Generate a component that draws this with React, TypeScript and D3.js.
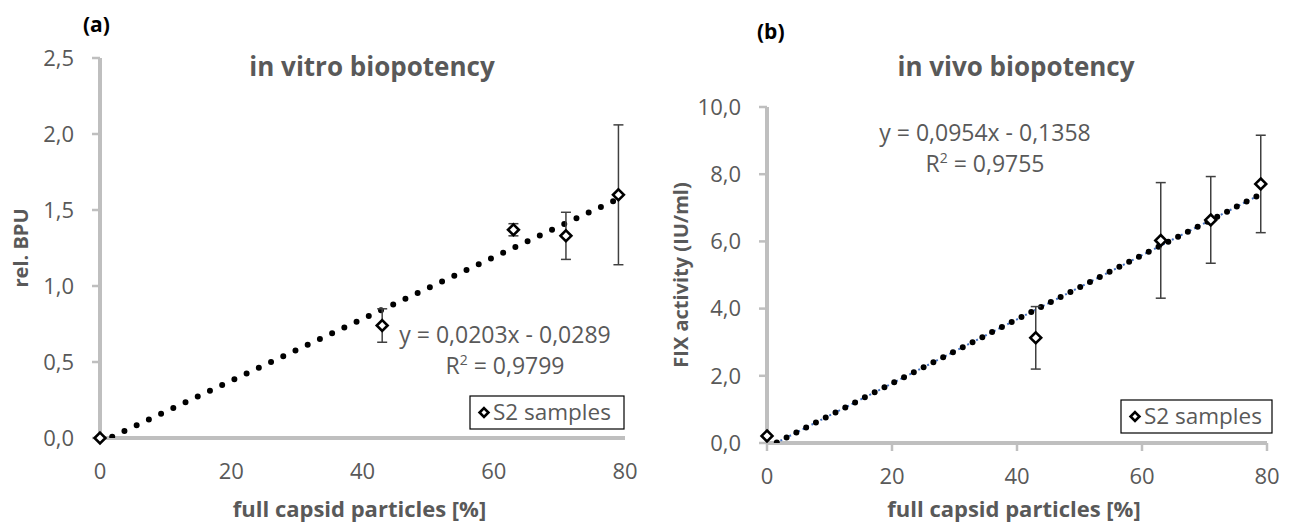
import React, { useEffect, useRef } from 'react';
import * as d3 from 'd3';

// full capsid particles [%]
const fullCapsid = [0, 43, 63, 71, 79];
// in vitro: rel. BPU and error
const invitroBPU = [0.0, 0.74, 1.37, 1.33, 1.6];
const invitroErr = [0, 0.11, 0.04, 0.155, 0.46];
// in vivo: FIX activity (IU/ml) and error
const invivoFIX = [0.21, 3.13, 6.03, 6.64, 7.71];
const invivoErr = [0, 0.93, 1.72, 1.29, 1.45];

const xTicks = [0, 20, 40, 60, 80];
const invitroTicks = [0, 0.5, 1, 1.5, 2, 2.5];
const invivoTicks = [0, 2, 4, 6, 8, 10];

const invitroFit = { slope: 0.0203, intercept: -0.0289, r2: '0,9799' };
const invivoFit = { slope: 0.0954, intercept: -0.1358, r2: '0,9755' };

const FONT = "'Open Sans', sans-serif";
const GRAY = '#595959';
const AXIS = '#bfbfbf';

const fmt = (v: number) => d3.format('.1f')(v).replace('.', ',');
const fmtCoef = (v: number) => d3.format('.4f')(Math.abs(v)).replace('.', ',');

const drawPanel = (svg: any, opt: any) => {
    const { left, right, top, bottom, yMax, yTicks, ys, errs, fit, label, title, yTitle, xTickMarks, eqPos, legendBox, labelPos, titleX, yTitleX, blueTrend } = opt;
    const x = d3.scaleLinear().domain([0, 80]).range([left, right]);
    const y = d3.scaleLinear().domain([0, yMax]).range([bottom, top]);
    const g = svg.append('g');

    const clipId = `clip-${label}`;
    g.append('clipPath').attr('id', clipId)
        .append('rect').attr('x', left).attr('y', top - 5).attr('width', right - left + 10).attr('height', bottom - top + 5);

    // panel label
    g.append('text').attr('x', labelPos[0]).attr('y', labelPos[1])
        .attr('font-family', FONT).attr('font-weight', 'bold').attr('font-size', 21)
        .attr('fill', '#000').text(`(${label})`);

    // chart title
    g.append('text').attr('x', titleX).attr('y', 76).attr('text-anchor', 'middle')
        .attr('font-family', FONT).attr('font-weight', 'bold').attr('font-size', 26)
        .attr('fill', GRAY).text(title);

    // y axis line + ticks
    g.append('line').attr('x1', left).attr('x2', left).attr('y1', y(yMax)).attr('y2', bottom)
        .attr('stroke', AXIS).attr('stroke-width', 4);
    g.selectAll('.ytick').data(yTicks).join('line')
        .attr('x1', left - 8).attr('x2', left).attr('y1', (d: number) => y(d)).attr('y2', (d: number) => y(d))
        .attr('stroke', AXIS).attr('stroke-width', 2.5);
    g.selectAll('.ylab').data(yTicks).join('text')
        .attr('x', left - 26).attr('y', (d: number) => y(d)).attr('dy', '0.35em')
        .attr('text-anchor', 'end').attr('font-family', FONT).attr('font-size', 22)
        .attr('fill', GRAY).text((d: number) => fmt(d));

    // x axis line + ticks
    g.append('line').attr('x1', left).attr('x2', right).attr('y1', bottom).attr('y2', bottom)
        .attr('stroke', AXIS).attr('stroke-width', 4);
    if (xTickMarks) {
        g.selectAll('.xtick').data(xTicks).join('line')
            .attr('x1', (d: number) => x(d)).attr('x2', (d: number) => x(d)).attr('y1', bottom).attr('y2', bottom + 8)
            .attr('stroke', AXIS).attr('stroke-width', 2.5);
    }
    g.selectAll('.xlab').data(xTicks).join('text')
        .attr('x', (d: number) => x(d)).attr('y', bottom + 33).attr('dy', '0.35em')
        .attr('text-anchor', 'middle').attr('font-family', FONT).attr('font-size', 22)
        .attr('fill', GRAY).text((d: number) => d);

    // axis titles
    g.append('text').attr('x', (left + right) / 2 - 3).attr('y', 517).attr('text-anchor', 'middle')
        .attr('font-family', FONT).attr('font-weight', 'bold').attr('font-size', 22)
        .attr('fill', GRAY).text('full capsid particles [%]');
    g.append('text').attr('transform', `translate(${yTitleX},${(top + bottom) / 2}) rotate(-90)`)
        .attr('text-anchor', 'middle').attr('font-family', FONT).attr('font-weight', 'bold').attr('font-size', 20)
        .attr('fill', GRAY).text(yTitle);

    // trend line
    const xEnd = d3.max(fullCapsid) as number;
    const trend = [0, xEnd].map(v => [x(v), y(fit.slope * v + fit.intercept)] as [number, number]);
    const line = d3.line();
    if (blueTrend) {
        g.append('path').attr('d', line(trend)).attr('clip-path', `url(#${clipId})`)
            .attr('stroke', '#4472c4').attr('stroke-width', 2).attr('stroke-dasharray', '2 3').attr('fill', 'none');
    }
    g.append('path').attr('d', line(trend)).attr('clip-path', `url(#${clipId})`)
        .attr('stroke', '#000').attr('stroke-width', 6).attr('stroke-linecap', 'round')
        .attr('stroke-dasharray', blueTrend ? '0 11' : '0 13.5').attr('fill', 'none');

    // error bars
    const pts = fullCapsid.map((v, i) => ({ x: v, y: ys[i], e: errs[i] })).filter(p => p.e > 0);
    const eb = g.append('g').attr('stroke', '#404040').attr('stroke-width', 1.5);
    eb.selectAll('.v').data(pts).join('line')
        .attr('x1', (d: any) => x(d.x)).attr('x2', (d: any) => x(d.x))
        .attr('y1', (d: any) => y(d.y + d.e)).attr('y2', (d: any) => y(d.y - d.e));
    eb.selectAll('.t').data(pts.flatMap((d: any) => [d.y + d.e, d.y - d.e].map(v => ({ x: d.x, v })))).join('line')
        .attr('x1', (d: any) => x(d.x) - 5).attr('x2', (d: any) => x(d.x) + 5)
        .attr('y1', (d: any) => y(d.v)).attr('y2', (d: any) => y(d.v));

    // markers
    const diamond = d3.symbol().type(d3.symbolDiamond2).size(75);
    g.selectAll('.pt').data(fullCapsid).join('path')
        .attr('d', diamond())
        .attr('transform', (d: number, i: number) => `translate(${x(d)},${y(ys[i])})`)
        .attr('fill', '#fff').attr('stroke', '#000').attr('stroke-width', 2.6);

    // equation
    const eq = `y = ${fmtCoef(fit.slope)}x ${fit.intercept < 0 ? '-' : '+'} ${fmtCoef(fit.intercept)}`;
    const eqText = g.append('text').attr('text-anchor', 'middle').attr('font-family', FONT).attr('font-size', 23).attr('fill', GRAY);
    eqText.append('tspan').attr('x', eqPos[0]).attr('y', eqPos[1]).text(eq);
    const r2 = g.append('text').attr('text-anchor', 'middle').attr('font-family', FONT).attr('font-size', 23).attr('fill', GRAY)
        .attr('x', eqPos[0]).attr('y', eqPos[1] + 31);
    r2.append('tspan').text('R');
    r2.append('tspan').attr('dy', -9).attr('font-size', 14).text('2');
    r2.append('tspan').attr('dy', 9).text(` = ${fit.r2}`);

    // legend
    const [lx, ly, lw, lh] = legendBox;
    g.append('rect').attr('x', lx).attr('y', ly).attr('width', lw).attr('height', lh)
        .attr('fill', '#fff').attr('stroke', '#000').attr('stroke-width', 1.2);
    g.append('path').attr('d', d3.symbol().type(d3.symbolDiamond2).size(50)())
        .attr('transform', `translate(${lx + 14},${ly + lh / 2})`)
        .attr('fill', '#fff').attr('stroke', '#000').attr('stroke-width', 2.6);
    g.append('text').attr('x', lx + 23).attr('y', ly + lh / 2).attr('dy', '0.35em')
        .attr('font-family', FONT).attr('font-size', 22.5).attr('fill', GRAY).text('S2 samples');
};

const App = () => {
    const ref = useRef<SVGSVGElement>(null);

    useEffect(() => {
        const svg = d3.select(ref.current);
        svg.selectAll('*').remove();

        drawPanel(svg, {
            left: 100, right: 625, top: 58, bottom: 438, yMax: 2.5, yTicks: invitroTicks,
            ys: invitroBPU, errs: invitroErr, fit: invitroFit, label: 'a',
            title: 'in vitro biopotency', yTitle: 'rel. BPU', xTickMarks: false,
            eqPos: [505, 343], legendBox: [470, 396, 154, 33], labelPos: [83, 32],
            titleX: 372, yTitleX: 28, blueTrend: false
        });

        drawPanel(svg, {
            left: 767, right: 1267, top: 107, bottom: 443, yMax: 10, yTicks: invivoTicks,
            ys: invivoFIX, errs: invivoErr, fit: invivoFit, label: 'b',
            title: 'in vivo biopotency', yTitle: 'FIX activity (IU/ml)', xTickMarks: true,
            eqPos: [985, 141], legendBox: [1121, 400, 151, 33], labelPos: [757, 39],
            titleX: 1016, yTitleX: 688, blueTrend: true
        });
    }, []);

    return (
        <svg ref={ref} width={1293} height={523}
            style={{ position: 'absolute', left: 0, top: 0, background: '#fff' }} />
    );
};

export default App;
